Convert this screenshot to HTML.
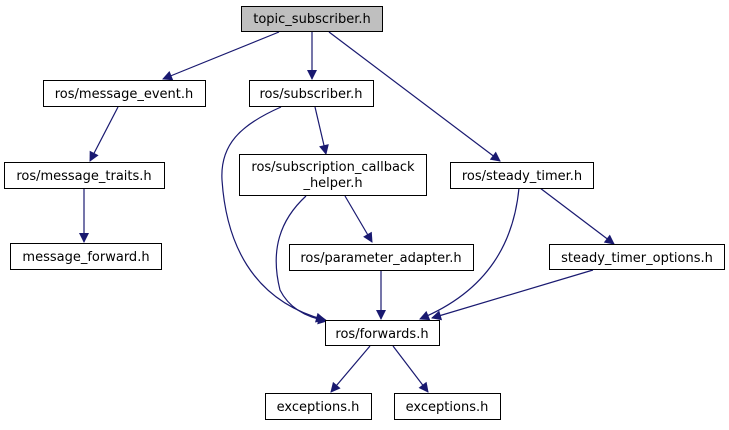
<!DOCTYPE html>
<html><head><meta charset="utf-8"><style>
body{margin:0;background:#fff}
text{font-family:"DejaVu Sans","Liberation Sans",sans-serif;font-size:13px;fill:#000}
</style></head><body>
<svg width="729" height="425" viewBox="0 0 729 425" xmlns="http://www.w3.org/2000/svg">
<defs><marker id="a" viewBox="0 0 10 10" refX="9" refY="5" markerWidth="11" markerHeight="10" markerUnits="userSpaceOnUse" orient="auto"><path d="M0,0L10,5L0,10z" fill="#191970"/></marker></defs>
<g fill="none" stroke="#191970" stroke-width="1.2" marker-end="url(#a)">
<path d="M279,32L163,79"/>
<path d="M312,32L312,79"/>
<path d="M329,32L500,161"/>
<path d="M118,107L90,161"/>
<path d="M84,188L84,242"/>
<path d="M281,107C240,125 220,145 222,180C226,240 250,300 325,320"/>
<path d="M315,107L326,154"/>
<path d="M306,196C280,220 270,250 280,290C290,310 310,318 327,321"/>
<path d="M345,196L372,242"/>
<path d="M381,269L381,319"/>
<path d="M519,188C514,240 490,290 420,319"/>
<path d="M540,188L614,244"/>
<path d="M593,270L432,318"/>
<path d="M370,346L331,392"/>
<path d="M393,346L428,392"/>
</g>
<g stroke="#000" stroke-width="1" fill="#fff">
<rect x="241.5" y="6.5" width="141" height="25" fill="#bfbfbf"/>
<rect x="43.5" y="80.5" width="162" height="26"/>
<rect x="249.5" y="80.5" width="124" height="26"/>
<rect x="4.5" y="162.5" width="160" height="26"/>
<rect x="239.5" y="154.5" width="187" height="41"/>
<rect x="450.5" y="162.5" width="143" height="26"/>
<rect x="10.5" y="243.5" width="151" height="26"/>
<rect x="289.5" y="244.5" width="184" height="26"/>
<rect x="549.5" y="244.5" width="175" height="25"/>
<rect x="325.5" y="320.5" width="114" height="25"/>
<rect x="265.5" y="393.5" width="106" height="26"/>
<rect x="394.5" y="393.5" width="106" height="26"/>
</g>
<g text-anchor="middle">
<text x="312" y="23">topic_subscriber.h</text>
<text x="124" y="98">ros/message_event.h</text>
<text x="311" y="98">ros/subscriber.h</text>
<text x="84" y="180">ros/message_traits.h</text>
<text x="333" y="171">ros/subscription_callback</text>
<text x="333" y="187">_helper.h</text>
<text x="522" y="180">ros/steady_timer.h</text>
<text x="86" y="261">message_forward.h</text>
<text x="381" y="262">ros/parameter_adapter.h</text>
<text x="637" y="262">steady_timer_options.h</text>
<text x="382" y="338">ros/forwards.h</text>
<text x="318" y="411">exceptions.h</text>
<text x="447" y="411">exceptions.h</text>
</g>
</svg>
</body></html>
